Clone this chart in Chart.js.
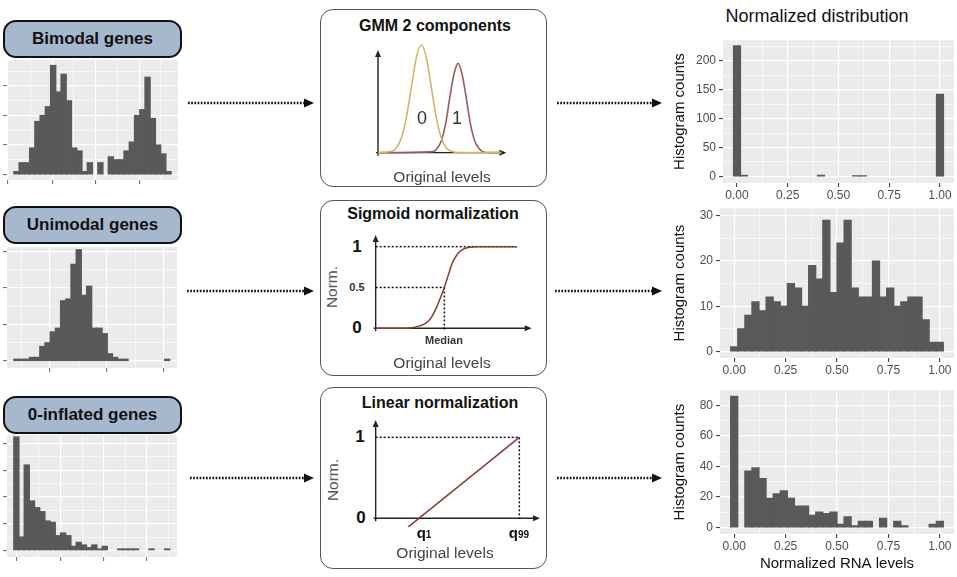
<!DOCTYPE html>
<html>
<head>
<meta charset="utf-8">
<script src="https://cdn.jsdelivr.net/npm/chart.js@4/dist/chart.umd.min.js"></script>
<style>
body{margin:0;background:#fff;font-family:"Liberation Sans",Arial,sans-serif;}
#page{position:relative;width:957px;height:577px;overflow:hidden;}
canvas,.abs{position:absolute;}
.tag{position:absolute;left:3px;width:175px;height:34px;background:#a6b8ce;border:2px solid #111;border-radius:13px;
  font-weight:bold;font-size:17px;color:#111;text-align:center;line-height:34px;}
.box{position:absolute;left:320px;width:225px;border:1.5px solid #555;border-radius:13px;}
.t{position:absolute;white-space:nowrap;transform:translate(-50%,-50%);color:#222;}
.ttl{font-weight:bold;font-size:16px;color:#111;}
.orig{font-size:15.5px;color:#444;}
.big{font-weight:bold;font-size:17px;color:#111;}
.sm{font-weight:bold;font-size:11px;color:#333;}
.norm{font-size:15.5px;color:#555;transform:translate(-50%,-50%) rotate(-90deg);}
</style>
</head>
<body>
<div id="page">
  <!-- left: gene class labels -->
  <div class="tag" style="top:20px">Bimodal genes</div>
  <div class="tag" style="top:206px">Unimodal genes</div>
  <div class="tag" style="top:396px">0-inflated genes</div>
  <canvas id="h1" width="175" height="124" style="left:3px;top:60px"></canvas>
  <canvas id="h2" width="174" height="125" style="left:3px;top:247px"></canvas>
  <canvas id="h3" width="174" height="126" style="left:3px;top:435px"></canvas>

  <!-- middle boxes -->
  <div class="box" style="top:9px;height:176px"></div>
  <div class="box" style="top:200px;height:174px"></div>
  <div class="box" style="top:387px;height:180px"></div>
  <div class="t ttl" style="left:435px;top:26px">GMM 2 components</div>
  <div class="t ttl" style="left:433px;top:214px">Sigmoid normalization</div>
  <div class="t ttl" style="left:440px;top:403px">Linear normalization</div>
  <canvas id="g1" width="137" height="114" style="left:373px;top:42px"></canvas>
  <canvas id="g2" width="168" height="108" style="left:370px;top:228px"></canvas>
  <canvas id="g3" width="176" height="118" style="left:370px;top:414px"></canvas>
  <div class="t" style="left:422px;top:118px;font-size:18px;color:#333">0</div>
  <div class="t" style="left:457px;top:118px;font-size:18px;color:#333">1</div>
  <div class="t orig" style="left:442px;top:177px">Original levels</div>

  <div class="t big" style="left:357px;top:247px">1</div>
  <div class="t sm" style="left:357px;top:287px">0.5</div>
  <div class="t big" style="left:357px;top:328px">0</div>
  <div class="t norm" style="left:332px;top:287px">Norm.</div>
  <div class="t sm" style="left:444px;top:340px">Median</div>
  <div class="t orig" style="left:442px;top:363px">Original levels</div>

  <div class="t big" style="left:360px;top:437px">1</div>
  <div class="t big" style="left:361px;top:518px">0</div>
  <div class="t norm" style="left:333px;top:480px">Norm.</div>
  <div class="t big" style="left:424px;top:532px;font-size:15px">q<span style="font-size:10px">1</span></div>
  <div class="t big" style="left:519px;top:532px;font-size:15px">q<span style="font-size:10px">99</span></div>
  <div class="t orig" style="left:445px;top:553px">Original levels</div>

  <!-- right -->
  <div class="t" style="left:817px;top:16px;font-size:18px;color:#111">Normalized distribution</div>
  <canvas id="c4" width="297" height="175" style="left:660px;top:30px"></canvas>
  <canvas id="c5" width="297" height="182" style="left:660px;top:198px"></canvas>
  <canvas id="c6" width="297" height="197" style="left:660px;top:380px"></canvas>

  <!-- dotted arrows -->
  <svg class="abs" style="left:0;top:0" width="957" height="577">
    <g stroke="#111" stroke-width="2.4" stroke-dasharray="1.7 1.5" fill="none">
      <line x1="188" y1="103" x2="305" y2="103"/>
      <line x1="187" y1="291" x2="305" y2="291"/>
      <line x1="190" y1="478" x2="305" y2="478"/>
      <line x1="557" y1="103" x2="653" y2="103"/>
      <line x1="555" y1="291" x2="653" y2="291"/>
      <line x1="557" y1="478" x2="653" y2="478"/>
    </g>
    <g fill="#111">
      <polygon points="314,103 304,98.5 304,107.5"/>
      <polygon points="314,291 304,286.5 304,295.5"/>
      <polygon points="314,478 304,473.5 304,482.5"/>
      <polygon points="662,103 652,98.5 652,107.5"/>
      <polygon points="662,291 652,286.5 652,295.5"/>
      <polygon points="662,478 652,473.5 652,482.5"/>
    </g>
  </svg>
</div>

<script>
// raw expression histograms, 30 bins each (left column)
const bimodalRaw   = [1,4,4,9,18,20,23,37,28,34,25,9,8,1,4,0,4,0,6,5,5,8,11,20,22,33,19,10,7,1];
const unimodalRaw  = [1,1,1,2,2,8,10,16,18,33,34,53,61,36,41,18,18,15,4,2,1,1,0,0,0,0,0,0,0,1];
const zeroInfRaw   = [85,10,64,37,32,29,22,21,11,13,11,3,6,4,2,4,1,3,0,0,1,1,1,1,0,0,1,0,0,1];

// normalized histograms (right column), bins centred on 0 ... 1
const bimodalNorm  = [226,2,0,0,0,0,0,0,0,0,0,0,2,0,0,0,0,1,1,0,0,0,0,0,0,0,0,0,0,142];
const unimodalNorm = [1,5,8,11,9,12,11,10,15,14,10,19,16,29,13,24,29,14,12,12,20,12,14,10,11,12,12,7,2,2];
const zeroInfNorm  = [86,0,37,39,32,19,22,24,19,14,14,8,10,9,10,2,7,1,4,4,0,6,0,4,1,0,0,0,2,4];

// tick labels
const normTicks = [0, 0.25, 0.5, 0.75, 1];
const normMinor = [0.125, 0.375, 0.625, 0.875];
const topTicks = [0, 50, 100, 150, 200], topMinor = [25, 75, 125, 175, 225];
const midTicks = [0, 10, 20, 30], midMinor = [5, 15, 25];
const botTicks = [0, 20, 40, 60, 80], botMinor = [10, 30, 50, 70];

// concept sketches (middle column)
const gmmX0 = [205,245,260,275,290,305,320,335,350,365,380,395,410,425,450,575];
const gmmY0 = [0,4,14,44,105,196,285,323,285,196,105,44,14,4,0,0];
const gmmX1 = [205,370,383,395,408,420,433,445,457,470,482,495,507,520,540,575];
const gmmY1 = [0,3,14,36,88,163,236,268,236,163,88,36,14,3,0,0];
const sigX = [197,290,310,330,350,365,380,392,403,414,426,441,456,476,500,620];
const sigY = [0,0,0.01,0.03,0.07,0.14,0.26,0.38,0.5,0.64,0.79,0.9,0.96,0.99,1,1];
const linX = [295, 628];
const linY = [-0.105, 1];

const rawBins = Array.from({length: 30}, (_, i) => i + 0.5);
const normBins = Array.from({length: 30}, (_, i) => i / 29);

Chart.defaults.font.family = '"Liberation Sans", Arial, sans-serif';
Chart.defaults.animation = false;
Chart.defaults.plugins.legend.display = false;
Chart.defaults.plugins.tooltip.enabled = false;

// grey ggplot panel
const panelBg = {
  id: 'panelBg',
  beforeDraw(chart) {
    const a = chart.chartArea, ctx = chart.ctx;
    ctx.save();
    ctx.fillStyle = '#ebebeb';
    ctx.fillRect(a.left, a.top, a.width, a.height);
    ctx.restore();
  }
};

// axes with arrow heads for the sketches
const arrowAxes = {
  id: 'arrowAxes',
  beforeDatasetsDraw(chart, args, o) {
    const ctx = chart.ctx, x = chart.scales.x, y = chart.scales.y;
    const ox = x.getPixelForValue(o.x0), oy = y.getPixelForValue(o.y0);
    const tx = x.getPixelForValue(o.xEnd), ty = y.getPixelForValue(o.yEnd);
    ctx.save();
    ctx.strokeStyle = ctx.fillStyle = '#222';
    ctx.lineWidth = 1.4;
    ctx.beginPath();
    ctx.moveTo(ox, oy + 3); ctx.lineTo(ox, ty + 5);
    ctx.moveTo(ox - 2, oy); ctx.lineTo(tx - 5, oy);
    ctx.stroke();
    ctx.beginPath(); ctx.moveTo(ox, ty); ctx.lineTo(ox - 3, ty + 7); ctx.lineTo(ox + 3, ty + 7); ctx.fill();
    ctx.beginPath(); ctx.moveTo(tx, oy); ctx.lineTo(tx - 7, oy - 3); ctx.lineTo(tx - 7, oy + 3); ctx.fill();
    ctx.restore();
  }
};

function tickList(major, minor) {
  return major.map(v => ({value: v}))
    .concat(minor.map(v => ({value: v, minor: true})))
    .sort((a, b) => a.value - b.value);
}

function axis(range, major, minor, extra, tickCol) {
  return Object.assign({
    type: 'linear', min: range[0], max: range[1], offset: false,
    border: {display: false},
    grid: {
      offset: false, color: '#fff',
      lineWidth: c => c.tick && c.tick.minor ? 0.6 : 1.2,
      tickLength: 4, tickWidth: 1,
      tickColor: c => c.tick && c.tick.minor ? 'rgba(0,0,0,0)' : (tickCol || '#333')
    },
    afterBuildTicks: s => { s.ticks = tickList(major, minor); },
    ticks: {display: false, autoSkip: false, maxRotation: 0}
  }, extra || {});
}

function hist(id, xs, ys, xo, yo, pad) {
  return new Chart(document.getElementById(id), {
    type: 'bar',
    data: {datasets: [{
      // empty bins are simply not drawn
      data: xs.map((x, i) => ({x: x, y: ys[i] === 0 ? null : ys[i]})),
      backgroundColor: '#595959', borderWidth: 0, inflateAmount: 0.6,
      barPercentage: 1, categoryPercentage: 1
    }]},
    options: {responsive: false, layout: {padding: pad || 0, autoPadding: false}, scales: {x: xo, y: yo}},
    plugins: [panelBg]
  });
}

// left column
hist('h1', rawBins, bimodalRaw,
  axis([-1.3, 31.3], [-1.1, 7.3, 15.6, 23.9], [3.1, 11.45, 19.75, 28.05], null, '#666'),
  axis([-1.85, 38.85], [0, 10, 20, 30], [5, 15, 25, 35], null, '#666'));
hist('h2', rawBins, unimodalRaw,
  axis([-1.3, 31.4], [6.9, 17.9, 28.8], [1.4, 12.4, 23.35], null, '#666'),
  axis([-3.8, 62.5], [0, 20, 40, 60], [10, 30, 50], null, '#666'));
hist('h3', rawBins, zeroInfRaw,
  axis([-1.3, 31.4], [0.64, 9.0, 17.3, 25.6], [4.8, 13.15, 21.45, 29.75], null, '#666'),
  axis([-5, 86.5], [0, 20, 40, 60, 80], [10, 30, 50, 70], null, '#666'));

// right column
const tickFont = {size: 12};
function xNorm(h, title) {
  const o = axis([-0.069, 1.069], normTicks, normMinor, {
    ticks: {display: true, autoSkip: false, maxRotation: 0, color: '#4d4d4d', font: tickFont, padding: 1,
      callback: (v, i, t) => t[i].minor ? '' : v.toFixed(2)},
    afterFit: s => { s.height = h; }
  });
  if (title) o.title = {display: true, text: title, color: '#111', font: {size: 15}, padding: {top: 4, bottom: 4}};
  return o;
}
function yCounts(range, major, minor, w) {
  return axis(range, major, minor, {
    ticks: {display: true, autoSkip: false, color: '#4d4d4d', font: tickFont, padding: 3,
      callback: (v, i, t) => t[i].minor ? '' : v},
    title: {display: true, text: 'Histogram counts', color: '#111', font: {size: 15}, padding: {top: 11, bottom: 0}},
    afterFit: s => { s.width = w; }
  });
}
hist('c4', normBins, bimodalNorm, xNorm(22), yCounts([-11.4, 236], topTicks, topMinor, 63), {top: 2, right: 3});
hist('c5', normBins, unimodalNorm, xNorm(22), yCounts([-1.45, 31.7], midTicks, midMinor, 60), {top: 2, right: 3});
hist('c6', normBins, zeroInfNorm, xNorm(43, 'Normalized RNA levels'), yCounts([-4.3, 90], botTicks, botMinor, 60), {top: 2, right: 3});

// middle column sketches
function pts(xs, ys) { return xs.map((x, i) => ({x: x, y: ys[i]})); }
function curve(xs, ys, color, w) {
  return {data: pts(xs, ys), borderColor: color, borderWidth: w, pointRadius: 0, fill: false,
    cubicInterpolationMode: 'monotone', clip: false};
}
function dotted(xs, ys) {
  return {data: pts(xs, ys), borderColor: '#111', borderWidth: 1.5, borderDash: [2, 2], pointRadius: 0,
    fill: false, tension: 0, clip: false};
}
function sketch(id, datasets, xr, yr, ax) {
  return new Chart(document.getElementById(id), {
    type: 'line',
    data: {datasets: datasets},
    options: {
      responsive: false, layout: {padding: 0, autoPadding: false},
      scales: {
        x: {type: 'linear', display: false, min: xr[0], max: xr[1]},
        y: {type: 'linear', display: false, min: yr[0], max: yr[1]}
      },
      plugins: {arrowAxes: ax}
    },
    plugins: [arrowAxes]
  });
}

sketch('g1', [
  curve(gmmX0, gmmY0, '#d6b46e', 1.6),
  curve(gmmX1, gmmY1, '#9c5a60', 1.6)
], [190, 601], [-10, 332], {x0: 205, y0: 0, xEnd: 590, yEnd: 308});

sketch('g2', [
  curve(sigX, sigY, '#8a3b36', 1.5),
  dotted([197, 620], [1, 1]),
  dotted([197, 403], [0.5, 0.5]),
  dotted([403, 403], [0.5, -0.04])
], [180, 684], [-0.094, 1.228], {x0: 197, y0: 0, xEnd: 665, yEnd: 1.143});

sketch('g3', [
  {data: pts(linX, linY), borderColor: '#8a3b36', borderWidth: 1.5, pointRadius: 0, fill: false, tension: 0, clip: false},
  dotted([197, 628], [1, 1]),
  dotted([628, 628], [1, 0])
], [180, 708], [-0.169, 1.288], {x0: 197, y0: 0, xEnd: 690, yEnd: 1.214});
</script>
</body>
</html>
